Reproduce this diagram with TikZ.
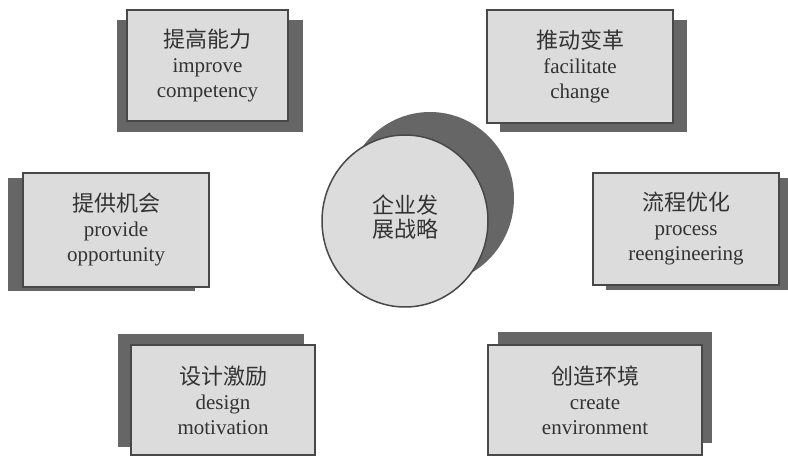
\documentclass[tikz,border=0pt]{standalone}
\usepackage{fontspec}
\setmainfont{Liberation Serif}
\newfontfamily\cjk{Noto Sans CJK SC}
\usetikzlibrary{shapes.geometric}
\definecolor{cardgray}{HTML}{DCDCDC}
\definecolor{shadegray}{HTML}{666666}
\definecolor{edgegray}{HTML}{484848}
\definecolor{inkgray}{HTML}{333333}
\newcommand{\zh}[1]{{\cjk\fontsize{22}{25}\selectfont #1}}
\begin{document}
\begin{tikzpicture}[x=1pt,y=-1pt,
  shade box/.style={fill=shadegray,draw=none},
  card/.style={draw=edgegray,line width=1.5pt,fill=cardgray,text=inkgray,
    align=center,inner sep=0pt,font=\fontsize{21}{25}\selectfont},
  hub/.style={ellipse,draw=edgegray,line width=1.5pt,fill=cardgray,inner sep=0pt},
  hubtext/.style={text=inkgray,align=center,inner sep=0pt,font=\cjk\fontsize{22}{24}\selectfont}]
\useasboundingbox (0,0) rectangle (788,457);
\fill[white] (0,0) rectangle (788,457);
% shadows
\fill[shade box] (117,20) rectangle (303,132);
\fill[shade box] (500,20) rectangle (687,132);
\fill[shade box] (8,178) rectangle (195,291);
\fill[shade box] (606,178) rectangle (789,290);
\fill[shade box] (118,334) rectangle (304,447);
\fill[shade box] (498,332) rectangle (712,443);
\fill[shade box] (430,198) ellipse [x radius=84, y radius=86];
% cards
\node[card,minimum width=161pt,minimum height=111pt] (b1) at (207.5,65.5)
  {\zh{提高能力}\\improve\\competency};
\node[card,minimum width=186pt,minimum height=113pt] (b2) at (580,66.5)
  {\zh{推动变革}\\facilitate\\change};
\node[card,minimum width=186pt,minimum height=114pt] (b3) at (116,230)
  {\zh{提供机会}\\provide\\opportunity};
\node[card,minimum width=186pt,minimum height=112pt] (b4) at (686,229)
  {\zh{流程优化}\\process\\reengineering};
\node[card,minimum width=184pt,minimum height=110pt] (b5) at (223,400)
  {\zh{设计激励}\\design\\motivation};
\node[card,minimum width=214pt,minimum height=110pt] (b6) at (595,400)
  {\zh{创造环境}\\create\\environment};
\node[hub,minimum width=166pt,minimum height=172pt] (hub) at (405,221) {};
\node[hubtext] (hubtext) at (405,217) {企业发\\展战略};
\end{tikzpicture}
\end{document}
